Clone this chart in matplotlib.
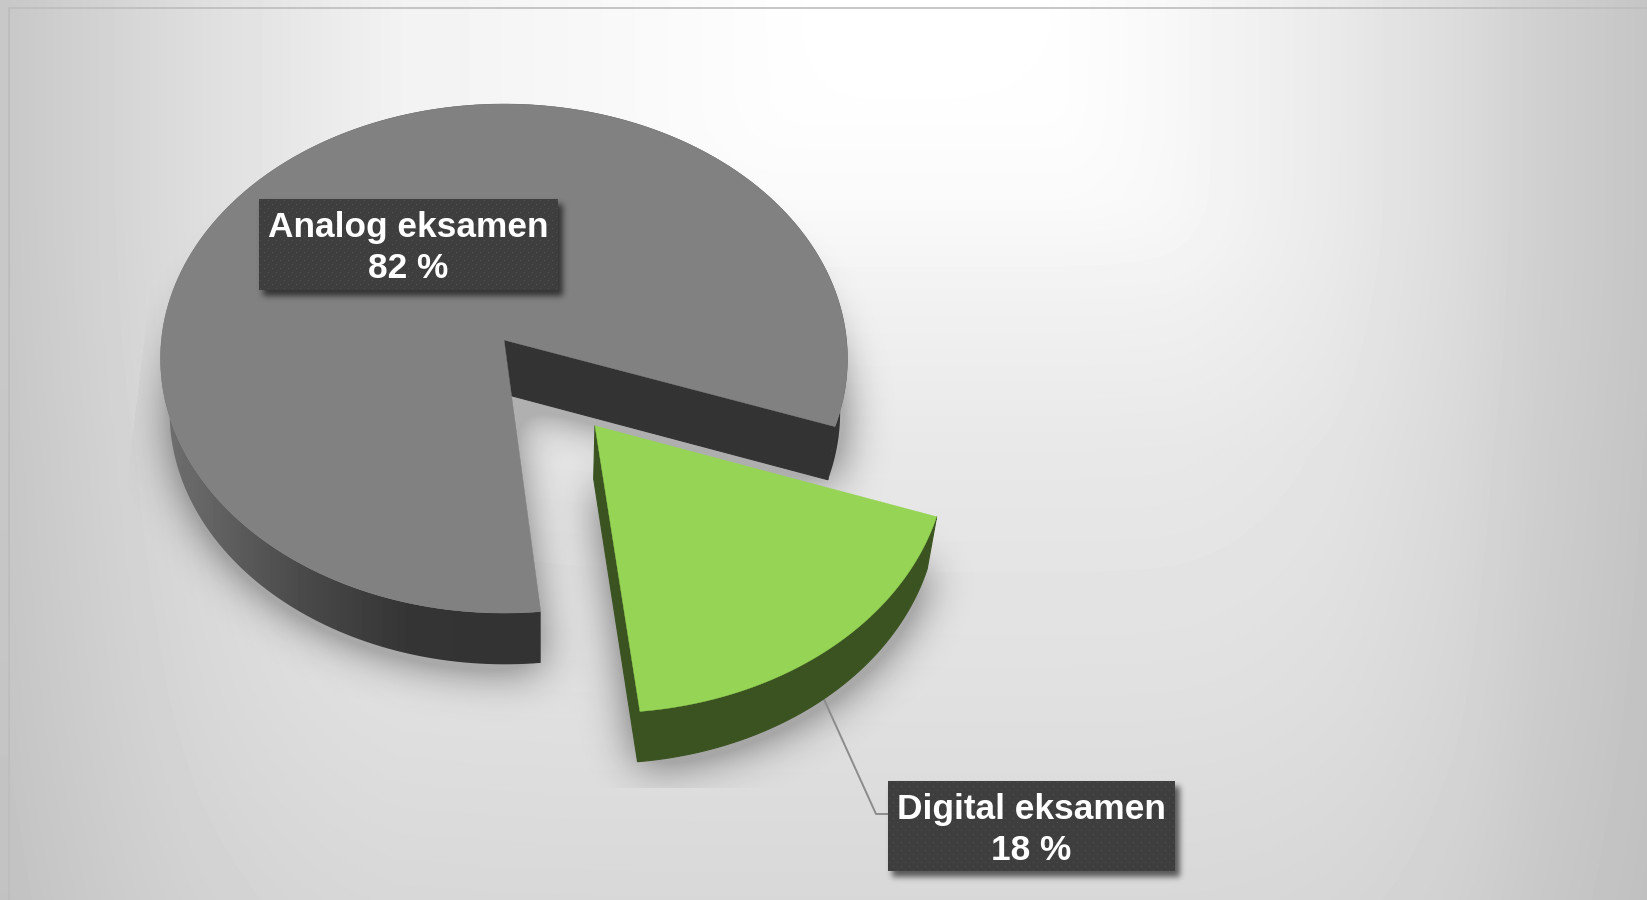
import numpy as np
import matplotlib
matplotlib.use('Agg')
import matplotlib.pyplot as plt
from matplotlib.patches import Polygon

plt.rcParams['font.family'] = ['Liberation Sans', 'DejaVu Sans']

# data
names = ['Analog eksamen', 'Digital eksamen']
values = [82, 18]
explode = [0.0, 0.42]
top_colors = ['#818181', '#95D454']
wall_colors = ['#333333', '#3B5320']

W, H = 1647, 900
start_angle = 19.5  # where the digital slice begins, clockwise on screen

# disc in perspective, all in picture pixels
cx, cy, rx, ry, k = 504.0, 340.0, 342.6, 253.2, 0.0727


def top_xy(u, v):
    d = 1 - k * v
    return cx + rx * u / d, cy + ry * v / d


def low_xy(u, v):
    x, y = top_xy(u, v)
    return 13 + 0.976 * x, cy + 54 + 0.99 * (y - cy)


def arc(a0, a1, ox, oy, func, n=240):
    t = np.radians(np.linspace(a0, a1, n))
    return np.column_stack(func(ox + np.cos(t), oy + np.sin(t)))


def poly_mask(polys):
    f = plt.figure(figsize=(W / 100, H / 100), dpi=100)
    a = f.add_axes([0, 0, 1, 1])
    a.set_xlim(0, W)
    a.set_ylim(H, 0)
    a.axis('off')
    for p in polys:
        a.add_patch(Polygon(p, fc='k', ec='k', lw=0.5))
    f.canvas.draw()
    m = 1 - np.asarray(f.canvas.buffer_rgba())[..., 0] / 255.0
    plt.close(f)
    return m


def blur(m, sigma):
    fy = np.fft.fftfreq(m.shape[0])[:, None]
    fx = np.fft.rfftfreq(m.shape[1])[None, :]
    g = np.exp(-2 * (np.pi * sigma) ** 2 * (fx ** 2 + fy ** 2))
    return np.fft.irfft2(np.fft.rfft2(m) * g, s=m.shape)


def draw_shadow(ax, polys, sigma, dx, dy, strength, zorder, gain=1.0, cut=None):
    m = np.roll(np.roll(poly_mask(polys), dy, axis=0), dx, axis=1)
    m = np.clip(blur(m, sigma) * gain, 0, 1) * strength
    if cut is not None:
        m = m * cut
    rgba = np.zeros((H, W, 4))
    rgba[..., 3] = m
    ax.imshow(rgba, extent=(0, W, H, 0), aspect='auto', zorder=zorder)


fig = plt.figure(figsize=(W / 100, H / 100), dpi=100, facecolor='white')
ax = fig.add_axes([0, 0, 1, 1])

# background, rectangular path gradient
xx = np.arange(W)
yy = np.arange(H)
dark_x = 255 - np.interp(xx, [9, 200, 400, 800, 900, 1050, 1165, 1330, 1455, 1537, 1647],
                         [200, 222, 242, 254, 255, 254, 248, 234, 220, 208, 197])
dark_y = 255 - np.interp(yy, [0, 100, 200, 300, 450, 700, 900],
                         [255, 254, 250, 241, 232, 224, 216])
dark = (dark_x[None, :] ** 3 + dark_y[:, None] ** 3) ** (1 / 3)
ax.imshow(np.clip(255 - dark, 0, 255), cmap='gray', vmin=0, vmax=255,
          extent=(0, W, H, 0), aspect='auto', zorder=0)
ax.plot([9, 9, W], [H, 8, 8], color='#BDBDBD', lw=1.2, zorder=1)

# slice geometry from the shares
digital_span = values[1] / sum(values) * 360
spans = {1: (start_angle, start_angle + digital_span),
         0: (start_angle + digital_span, start_angle + 360)}
mid = np.radians(start_angle + digital_span / 2)
offs = [(e * np.cos(mid), e * np.sin(mid)) for e in explode]

faces = {}
for i in (0, 1):
    a0, a1 = spans[i]
    ox, oy = offs[i]
    top_arc = arc(a0, a1, ox, oy, top_xy)
    low_arc = arc(a0, a1, ox, oy, low_xy)
    top_c = np.array([top_xy(ox, oy)])
    low_c = np.array([low_xy(ox, oy)])
    faces[i] = dict(top=np.vstack([top_c, top_arc]),
                    low=np.vstack([low_c, low_arc]),
                    rim=np.vstack([top_arc, low_arc[::-1]]),
                    top_arc=top_arc, low_arc=low_arc, top_c=top_c, low_c=low_c)

# soft shadow of the pie base, cut off by the plot area (slanted at the left)
gx, gy = np.meshgrid(xx, yy)
cut_mask = (gx > 143 - 0.12 * (gy - 345)) & (gy < 788)
draw_shadow(ax, [faces[i]['low'] for i in (0, 1)], 22, 2, 4, 0.25, 2, gain=2.2, cut=cut_mask)

# leader line of the digital label
lx, ly = low_xy(offs[1][0] + np.cos(mid), offs[1][1] + np.sin(mid))
ax.plot([lx, 876, 888], [ly, 814, 814], color='#8C8C8C', lw=1.4, zorder=3)

# analog slice
f = faces[0]
rim = Polygon(f['rim'], fc='none', ec='none', zorder=4)
ax.add_patch(rim)
shade = np.interp(xx, [160, 200, 300, 400, 470, W], [112, 102, 74, 54, 51, 51])
im = ax.imshow(shade[None, :], cmap='gray', vmin=0, vmax=255,
               extent=(0, W, H, 0), aspect='auto', zorder=4)
im.set_clip_path(rim)
cut = np.vstack([f['top_c'], f['top_arc'][-1:], f['low_arc'][-1:], f['low_c']])
ax.add_patch(Polygon(cut, fc=wall_colors[0], ec=wall_colors[0], lw=0.8, zorder=5))
ax.add_patch(Polygon(f['top'], fc=top_colors[0], ec=top_colors[0], lw=0.3, zorder=6))

# digital slice
f = faces[1]
ax.add_patch(Polygon(f['rim'], fc=wall_colors[1], ec=wall_colors[1], lw=0.8, zorder=7))
cut = np.vstack([f['top_c'], f['top_arc'][-1:], f['low_arc'][-1:], f['low_c']])
ax.add_patch(Polygon(cut, fc=wall_colors[1], ec=wall_colors[1], lw=0.8, zorder=7))
ax.add_patch(Polygon(f['top'], fc=top_colors[1], ec=top_colors[1], lw=0.3, zorder=8))

# labels
boxes = [(259, 558, 199, 290), (888, 1175, 781, 871)]
for i, (x0, x1, y0, y1) in enumerate(boxes):
    rect = np.array([[x0, y0], [x1, y0], [x1, y1], [x0, y1]])
    draw_shadow(ax, [rect], 3, 4, 5, 0.6, 9)
    tex = np.full((y1 - y0, x1 - x0), 62.0)
    for r in range(1, y1 - y0, 4):
        shift = 0 if (r - 1) % 8 == 0 else 4
        tex[r, shift + 1::8] = 80
    ax.imshow(tex, cmap='gray', vmin=0, vmax=255, extent=(x0, x1, y1, y0),
              aspect='auto', interpolation='bilinear', zorder=10)
    xm = (x0 + x1) / 2
    ax.text(xm, y0 + 29, names[i], color='white', fontsize=25.4, fontweight='bold',
            ha='center', va='center', zorder=11)
    ax.text(xm, y0 + 70, f'{values[i]} %', color='white', fontsize=25.4, fontweight='bold',
            ha='center', va='center', zorder=11)

ax.set_xlim(0, W)
ax.set_ylim(H, 0)
ax.axis('off')
fig.savefig('out.png', dpi=100, facecolor='white')
